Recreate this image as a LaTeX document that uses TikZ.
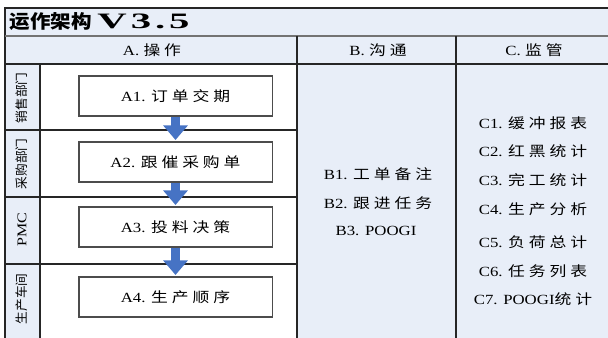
\documentclass[tikz,border=0pt]{standalone}
\usepackage{fontspec}
\setmainfont{Liberation Serif}[FakeStretch=1.2]
\newfontfamily\zhfont{Noto Sans CJK SC}[FakeStretch=1.2,LetterSpace=28]
\newfontfamily\lanefont{Noto Sans CJK SC}
\newfontfamily\titlefont{Noto Sans CJK SC}[FakeStretch=1.1]
\newfontfamily\versionfont{Liberation Serif}[FakeStretch=1.85,LetterSpace=18]
\newcommand{\zh}[1]{{\zhfont #1}}
\usetikzlibrary{arrows.meta}
\definecolor{bgblue}{RGB}{232,238,248}
\definecolor{arrblue}{RGB}{70,115,196}

\begin{document}
\begin{tikzpicture}[x=0.75pt,y=-0.75pt,
  grid/.style={black!85,line width=1pt},
  box/.style={draw=black!70,line width=1pt,fill=white,minimum width=145pt,minimum height=30pt,font=\fontsize{10.5}{12}\selectfont},
  lane/.style={rotate=90,font=\fontsize{9.5}{11}\selectfont\lanefont},
  item/.style={font=\fontsize{10.5}{12}\selectfont},
  flow/.style={arrblue,line width=6.5pt,-{Triangle[width=18pt,length=11pt]},shorten >=1pt}]
  \useasboundingbox (0,0) rectangle (608,338);

  % Fondo
  \fill[bgblue] (5,8) rectangle (610,340);
  \fill[white] (40,64) rectangle (297,340);

  % Rejilla
  \draw[grid] (610,8) -- (5,8) -- (5,340);
  \draw[black!55,line width=0.8pt] (5,36) -- (610,36);
  \draw[grid] (5,64) -- (610,64);
  \draw[grid] (297,36) -- (297,340);
  \draw[grid] (456,36) -- (456,340);
  \draw[grid] (40,64) -- (40,340);
  \foreach \y in {130,197,264}
    \draw[grid] (5,\y) -- (297,\y);

  % Titulo y cabeceras
  \node[anchor=west,font=\fontsize{14}{16}\selectfont\bfseries] (title) at (5,22)
    {{\titlefont 运作架构} {\versionfont\bfseries\fontsize{16.5}{17}\selectfont V3.5}};
  \node[item] (hA) at (152,50) {A. \zh{操作}};
  \node[item] (hB) at (378,50) {B. \zh{沟通}};
  \node[item] (hC) at (534,50) {C. \zh{监管}};

  % Carriles
  \node[lane] (l1) at (22,98) {销售部门};
  \node[lane] (l2) at (22,164) {采购部门};
  \node[lane,font=\fontsize{10}{12}\selectfont] (l3) at (22,230) {PMC};
  \node[lane] (l4) at (22,299) {生产车间};

  % Pasos
  \node[box] (a1) at (175.5,96) {A1. \zh{订单交期}};
  \node[box] (a2) at (175.5,162) {A2. \zh{跟催采购单}};
  \node[box] (a3) at (175.5,227) {A3. \zh{投料决策}};
  \node[box] (a4) at (175.5,297) {A4. \zh{生产顺序}};
  \draw[flow] (a1) -- (a2);
  \draw[flow] (a2) -- (a3);
  \draw[flow] (a3) -- (a4);

  % Columna B
  \node[item] (b1) at (378,174) {B1. \zh{工单备注}};
  \node[item] (b2) at (378,203) {B2. \zh{跟进任务}};
  \node[item] (b3) at (376,231) {B3. POOGI};

  % Columna C
  \node[item] (c1) at (533,123) {C1. \zh{缓冲报表}};
  \node[item] (c2) at (533,151) {C2. \zh{红黑统计}};
  \node[item] (c3) at (533,180) {C3. \zh{完工统计}};
  \node[item] (c4) at (533,209) {C4. \zh{生产分析}};
  \node[item] (c5) at (533,242) {C5. \zh{负荷总计}};
  \node[item] (c6) at (533,271) {C6. \zh{任务列表}};
  \node[item] (c7) at (533,299) {C7. POOGI\zh{统计}};
\end{tikzpicture}
\end{document}
